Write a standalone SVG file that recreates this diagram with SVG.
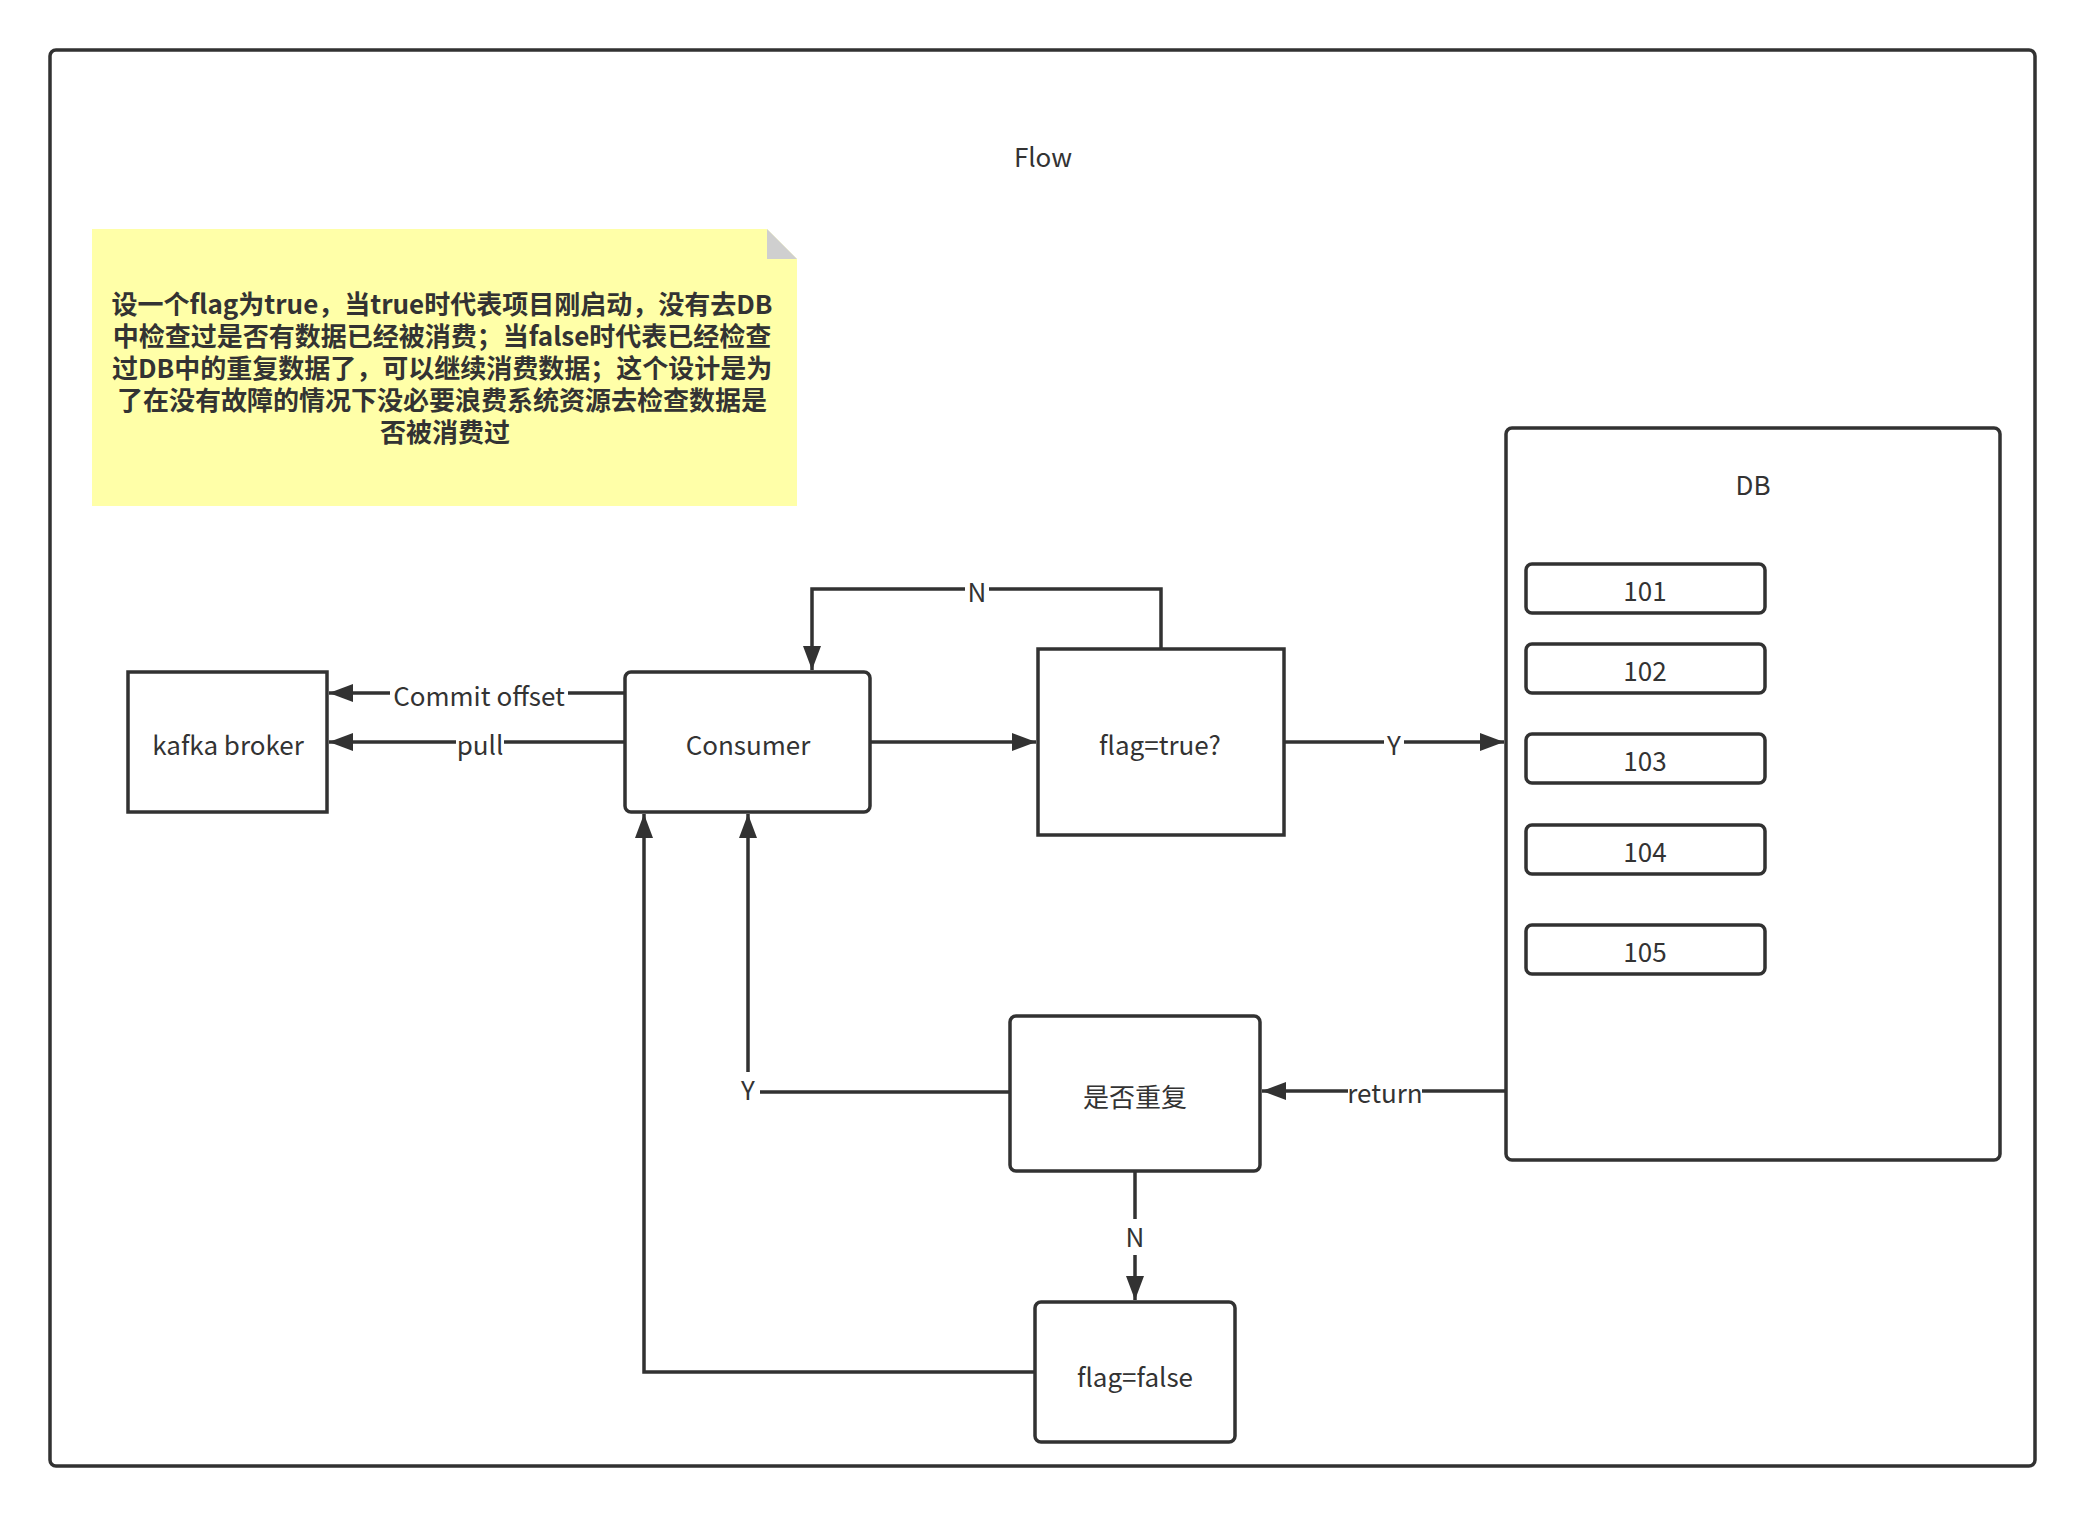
<svg xmlns="http://www.w3.org/2000/svg" width="2086" height="1516" viewBox="0 0 2086 1516">
  <style>
    .box { fill: #ffffff; stroke: #323232; stroke-width: 3.5; }
    .line { fill: none; stroke: #323232; stroke-width: 3.5; }
    .lbl { font-family: "Noto Sans CJK SC", "Noto Sans", sans-serif; font-size: 26px; fill: #333333; text-anchor: middle; dominant-baseline: central; }
    .elbl { font-family: "Noto Sans CJK SC", "Noto Sans", sans-serif; font-size: 26px; fill: #333333; text-anchor: middle; dominant-baseline: central; }
    .note { font-family: "Noto Sans CJK SC", "Noto Sans", sans-serif; font-size: 26px; font-weight: bold; fill: #333333; text-anchor: middle; }
  </style>
  <defs>
    <marker id="arrow" viewBox="0 0 24 18" refX="24" refY="9" markerWidth="24" markerHeight="18" markerUnits="userSpaceOnUse" orient="auto">
      <path d="M0,0 L24,9 L0,18 Z" fill="#323232"/>
    </marker>
  </defs>

  <rect width="2086" height="1516" fill="#ffffff"/>

  <!-- outer frame -->
  <g id="frame">
    <rect x="50" y="50" width="1985" height="1416" rx="6" class="box"/>
    <text x="1043" y="155" class="lbl">Flow</text>
  </g>

  <!-- sticky note -->
  <g id="note">
    <path d="M92,229 L767,229 L797,259 L797,506 L92,506 Z" fill="#ffffa8"/>
    <path d="M767,229 L797,259 L767,259 Z" fill="#cfcfcf"/>
    <text class="note">
      <tspan x="445" y="314">设一个flag为true，当true时代表项目刚启动，没有去DB</tspan>
      <tspan x="445" y="346">中检查过是否有数据已经被消费；当false时代表已经检查</tspan>
      <tspan x="445" y="378">过DB中的重复数据了，可以继续消费数据；这个设计是为</tspan>
      <tspan x="445" y="410">了在没有故障的情况下没必要浪费系统资源去检查数据是</tspan>
      <tspan x="445" y="442">否被消费过</tspan>
    </text>
  </g>

  <!-- connectors -->
  <g id="connectors">
    <line x1="625" y1="693" x2="329" y2="693" class="line" marker-end="url(#arrow)"/>
    <line x1="625" y1="742" x2="329" y2="742" class="line" marker-end="url(#arrow)"/>
    <line x1="870" y1="742" x2="1036" y2="742" class="line" marker-end="url(#arrow)"/>
    <line x1="1284" y1="742" x2="1504" y2="742" class="line" marker-end="url(#arrow)"/>
    <polyline points="1161,649 1161,589 812,589 812,670" class="line" marker-end="url(#arrow)"/>
    <line x1="1506" y1="1091" x2="1262" y2="1091" class="line" marker-end="url(#arrow)"/>
    <polyline points="1010,1092 748,1092 748,814" class="line" marker-end="url(#arrow)"/>
    <line x1="1135" y1="1171" x2="1135" y2="1300" class="line" marker-end="url(#arrow)"/>
    <polyline points="1035,1372 644,1372 644,814" class="line" marker-end="url(#arrow)"/>

    <!-- edge labels on white backing -->
    <rect x="390" y="675" width="178" height="36" fill="#ffffff"/>
    <text x="479" y="694" class="elbl">Commit offset</text>
    <rect x="456" y="725" width="48" height="36" fill="#ffffff"/>
    <text x="480" y="743" class="elbl">pull</text>
    <rect x="1384" y="725" width="20" height="36" fill="#ffffff"/>
    <text x="1394" y="743" class="elbl">Y</text>
    <rect x="965" y="572" width="24" height="36" fill="#ffffff"/>
    <text x="977" y="590" class="elbl">N</text>
    <rect x="1348" y="1073" width="74" height="36" fill="#ffffff"/>
    <text x="1385" y="1091" class="elbl">return</text>
    <rect x="738" y="1072" width="22" height="38" fill="#ffffff"/>
    <text x="748" y="1088" class="elbl">Y</text>
    <rect x="1123" y="1219" width="24" height="36" fill="#ffffff"/>
    <text x="1135" y="1235" class="elbl">N</text>
  </g>

  <g id="kafka-broker">
    <rect x="128" y="672" width="199" height="140" class="box"/>
    <text x="228" y="743" class="lbl">kafka broker</text>
  </g>
  <g id="consumer">
    <rect x="625" y="672" width="245" height="140" rx="6" class="box"/>
    <text x="748" y="743" class="lbl">Consumer</text>
  </g>
  <g id="flag-true">
    <rect x="1038" y="649" width="246" height="186" class="box"/>
    <text x="1160" y="743" class="lbl">flag=true?</text>
  </g>
  <g id="db">
    <rect x="1506" y="428" width="494" height="732" rx="6" class="box"/>
    <text x="1753" y="483" class="lbl">DB</text>
  </g>
  <g id="row-101">
    <rect x="1526" y="564" width="239" height="49" rx="6" class="box"/>
    <text x="1645" y="589" class="lbl">101</text>
  </g>
  <g id="row-102">
    <rect x="1526" y="644" width="239" height="49" rx="6" class="box"/>
    <text x="1645" y="669" class="lbl">102</text>
  </g>
  <g id="row-103">
    <rect x="1526" y="734" width="239" height="49" rx="6" class="box"/>
    <text x="1645" y="759" class="lbl">103</text>
  </g>
  <g id="row-104">
    <rect x="1526" y="825" width="239" height="49" rx="6" class="box"/>
    <text x="1645" y="850" class="lbl">104</text>
  </g>
  <g id="row-105">
    <rect x="1526" y="925" width="239" height="49" rx="6" class="box"/>
    <text x="1645" y="950" class="lbl">105</text>
  </g>
  <g id="is-duplicate">
    <rect x="1010" y="1016" width="250" height="155" rx="6" class="box"/>
    <text x="1135" y="1095" class="lbl">是否重复</text>
  </g>
  <g id="flag-false">
    <rect x="1035" y="1302" width="200" height="140" rx="6" class="box"/>
    <text x="1135" y="1375" class="lbl">flag=false</text>
  </g>
</svg>
